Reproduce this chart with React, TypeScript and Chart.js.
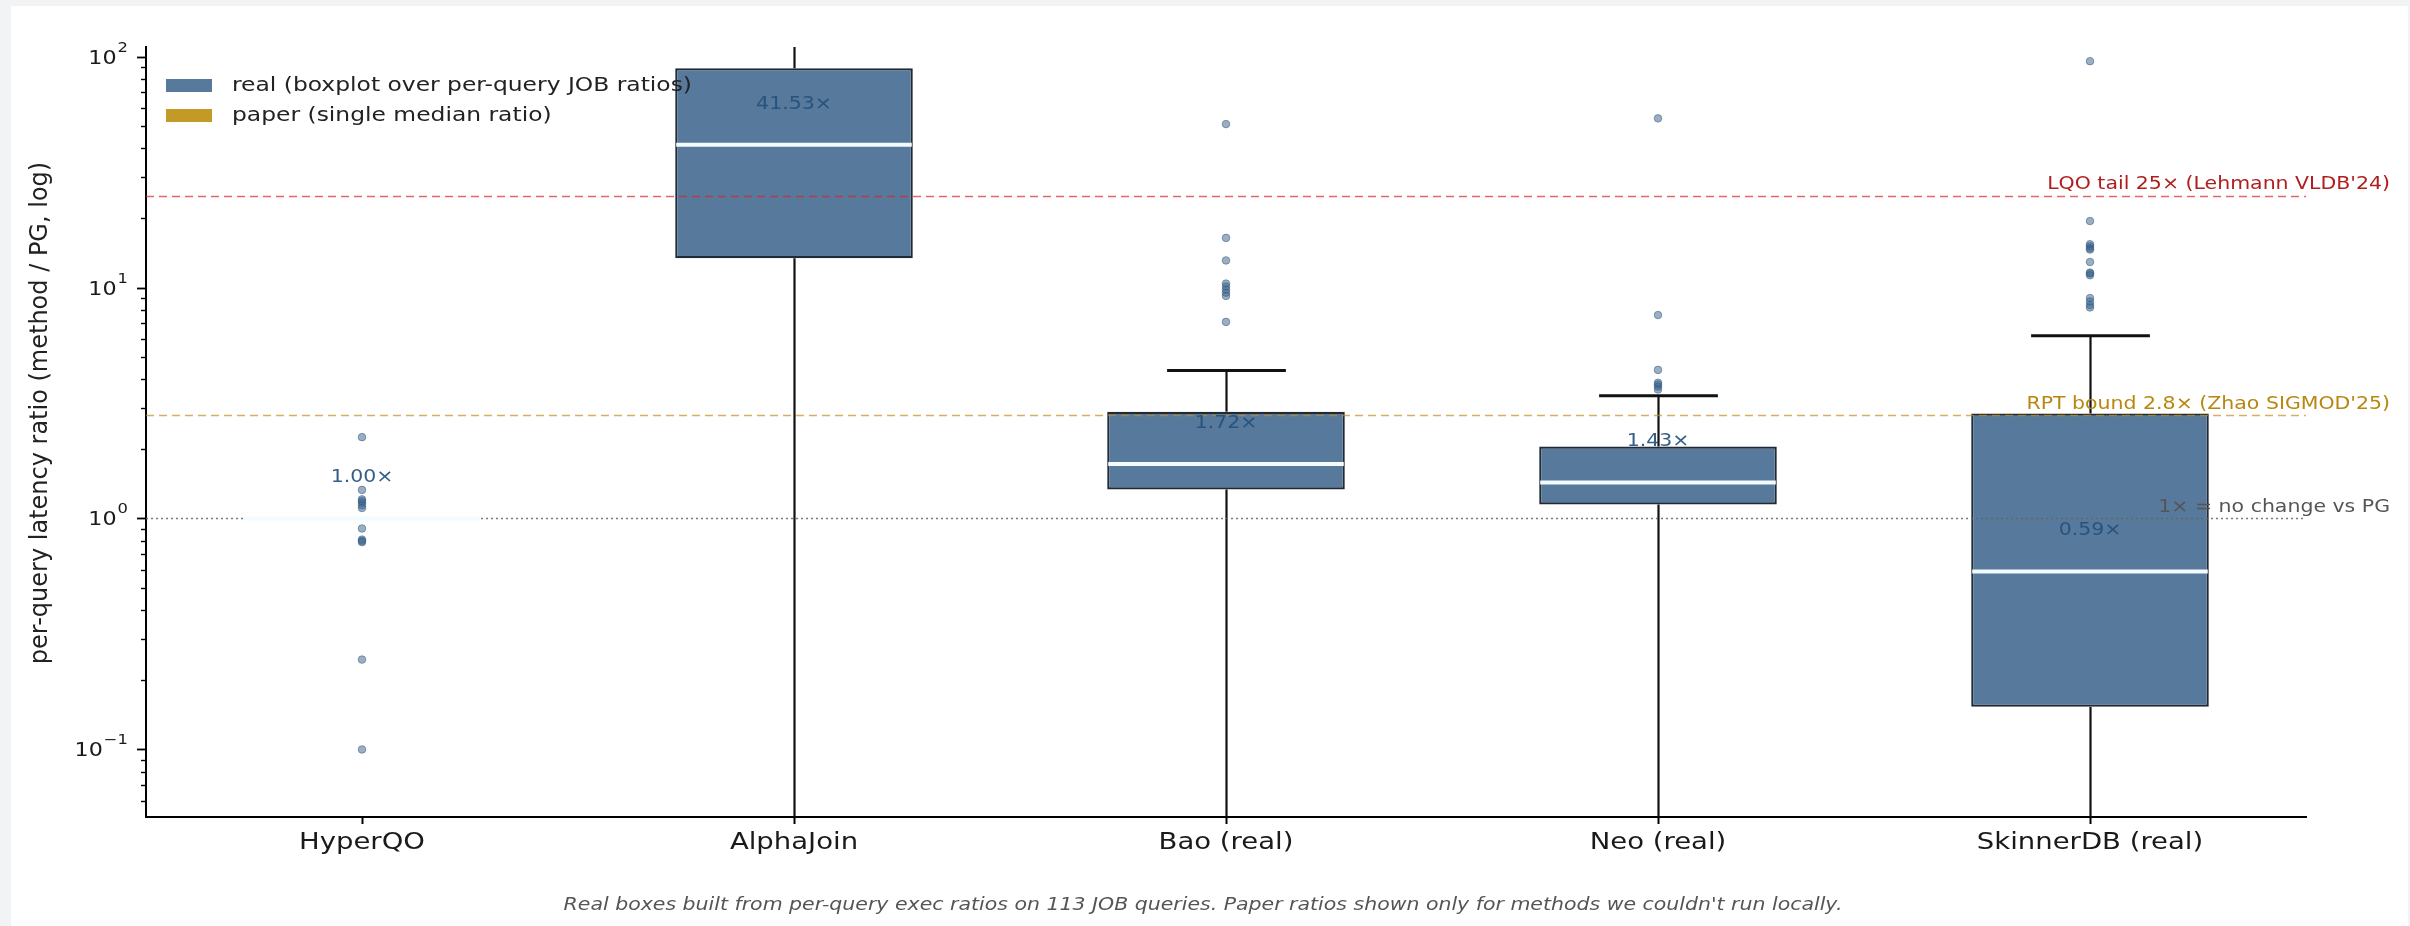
import React, { useEffect, useRef } from 'react';
import { Chart, registerables } from 'chart.js';

Chart.register(...registerables);

// ---- data -------------------------------------------------------------
const CATEGORIES = ['HyperQO', 'AlphaJoin', 'Bao (real)', 'Neo (real)', 'SkinnerDB (real)'];
const MEDIANS = [1.0, 41.53, 1.72, 1.43, 0.59];
const Q1 = [1.0, 13.4, 1.335, 1.15, 0.153];
const Q3 = [1.0, 89, 2.9, 2.05, 2.85];
const WHISKER_LO = [1.0, 0.02, 0.02, 0.02, 0.02];
const WHISKER_HI = [1.0, 300, 4.37, 3.4, 6.18];

const OUTLIERS_HYPERQO = [2.25, 1.33, 1.21, 1.19, 1.17, 1.14, 1.11, 0.905, 0.81, 0.8, 0.79, 0.245, 0.1];
const OUTLIERS_ALPHAJOIN: number[] = [];
const OUTLIERS_BAO = [51, 16.4, 13.1, 10.4, 10.1, 9.8, 9.5, 9.2, 7.1];
const OUTLIERS_NEO = [54, 7.6, 4.4, 3.87, 3.8, 3.72, 3.62];
const OUTLIERS_SKINNER = [95.5, 19.4, 15.4, 15.1, 14.8, 14.6, 12.9, 11.6, 11.5, 11.3, 9.0, 8.7, 8.4, 8.2];

const REF_VALUES = [25, 2.8, 1];
const REF_LABELS = [
  "LQO tail 25× (Lehmann VLDB'24)",
  "RPT bound 2.8× (Zhao SIGMOD'25)",
  '1× = no change vs PG',
];

const Y_TICK_VALUES = [0.1, 1, 10, 100];
const Y_TICK_EXPONENTS = ['−1', '0', '1', '2'];
const Y_MIN = 0.051;
const Y_MAX = 110;

const LEGEND_LABELS = ['real (boxplot over per-query JOB ratios)', 'paper (single median ratio)'];
const Y_TITLE = 'per-query latency ratio (method / PG, log)';
const FOOTNOTE =
  "Real boxes built from per-query exec ratios on 113 JOB queries. Paper ratios shown only for methods we couldn't run locally.";

// ---- styles -----------------------------------------------------------
const W = 2410;
const H = 926;
const FONT = "'DejaVu Sans', 'Liberation Sans', sans-serif";
const SX = 1.17; // horizontal text stretch
const BOX_FILL = '#57799b';
const BOX_EDGE = '#1e2a36';
const PAPER_FILL = '#c49a26';
const MEDIAN_COLOR = '#f2fbff';
const REF_LINE_COLORS = ['rgba(214,39,40,0.7)', 'rgba(200,140,30,0.7)', 'rgba(100,100,100,0.85)'];
const REF_TEXT_COLORS = ['#b01e1e', '#b8870f', '#555555'];
const REF_DASHES = [[8, 5], [8, 5], [2, 3]];
const POINT_FILL = 'rgba(55,95,135,0.5)';
const POINT_EDGE = 'rgba(55,95,135,0.55)';
const LABEL_COLOR = 'rgba(35,80,125,0.92)';

function drawText(
  ctx: CanvasRenderingContext2D,
  text: string,
  x: number,
  y: number,
  font: string,
  color: string,
  align: 'left' | 'center' | 'right' = 'left',
  baseline: CanvasTextBaseline = 'alphabetic'
) {
  ctx.save();
  ctx.font = font;
  ctx.fillStyle = color;
  ctx.textBaseline = baseline;
  ctx.textAlign = 'left';
  const w = ctx.measureText(text).width * SX;
  let x0 = x;
  if (align === 'center') x0 = x - w / 2;
  else if (align === 'right') x0 = x - w;
  ctx.translate(x0, y);
  ctx.scale(SX, 1);
  ctx.fillText(text, 0, 0);
  ctx.restore();
  return w;
}

const decorPlugin = {
  id: 'decor',
  beforeDraw(chart: any) {
    const ctx: CanvasRenderingContext2D = chart.ctx;
    ctx.save();
    ctx.fillStyle = '#f2f3f5';
    ctx.fillRect(0, 0, chart.width, chart.height);
    ctx.fillStyle = '#ffffff';
    ctx.fillRect(11, 6, 2397, chart.height - 6);
    ctx.restore();
  },
  beforeDatasetsDraw(chart: any) {
    const ctx: CanvasRenderingContext2D = chart.ctx;
    const a = chart.chartArea;
    const y = chart.scales.y;
    const meta = chart.getDatasetMeta(0);
    ctx.save();
    ctx.beginPath();
    ctx.rect(a.left, a.top, a.right - a.left, a.bottom - a.top);
    ctx.clip();
    ctx.strokeStyle = '#111';
    CATEGORIES.forEach((_, i) => {
      const bar = meta.data[i];
      const cx = Math.round(bar.x) + 0.5;
      const capHalf = bar.width / 4;
      const segs: [number, number][] = [
        [Q1[i], WHISKER_LO[i]],
        [Q3[i], WHISKER_HI[i]],
      ];
      segs.forEach(([from, to]) => {
        if (from === to) return;
        const p0 = y.getPixelForValue(from);
        const p1 = y.getPixelForValue(to);
        ctx.lineWidth = 2.2;
        ctx.beginPath();
        ctx.moveTo(cx, p0);
        ctx.lineTo(cx, p1);
        ctx.stroke();
        ctx.lineWidth = 3;
        ctx.beginPath();
        ctx.moveTo(cx - capHalf, p1);
        ctx.lineTo(cx + capHalf, p1);
        ctx.stroke();
      });
    });
    ctx.restore();
  },
  afterDatasetsDraw(chart: any) {
    const ctx: CanvasRenderingContext2D = chart.ctx;
    const a = chart.chartArea;
    const x = chart.scales.x;
    const y = chart.scales.y;
    const meta = chart.getDatasetMeta(0);

    // reference lines
    ctx.save();
    REF_VALUES.forEach((v, i) => {
      const py = Math.round(y.getPixelForValue(v)) + 0.5;
      ctx.strokeStyle = REF_LINE_COLORS[i];
      ctx.lineWidth = 1.6;
      ctx.setLineDash(REF_DASHES[i]);
      ctx.beginPath();
      ctx.moveTo(a.left, py);
      ctx.lineTo(a.right, py);
      ctx.stroke();
    });
    ctx.restore();

    // medians
    ctx.save();
    ctx.strokeStyle = MEDIAN_COLOR;
    ctx.lineWidth = 4;
    CATEGORIES.forEach((_, i) => {
      const bar = meta.data[i];
      const py = y.getPixelForValue(MEDIANS[i]);
      ctx.beginPath();
      ctx.moveTo(bar.x - bar.width / 2 + 1, py);
      ctx.lineTo(bar.x + bar.width / 2 - 1, py);
      ctx.stroke();
    });
    ctx.restore();

    // reference labels
    REF_VALUES.forEach((v, i) => {
      const py = y.getPixelForValue(v);
      drawText(ctx, REF_LABELS[i], 2390, py - 11, `17.5px ${FONT}`, REF_TEXT_COLORS[i], 'right', 'middle');
    });

    // median value labels
    CATEGORIES.forEach((_, i) => {
      const bar = meta.data[i];
      const py = y.getPixelForValue(MEDIANS[i] * 1.5);
      drawText(ctx, MEDIANS[i].toFixed(2) + '×', bar.x, py, `17.5px ${FONT}`, LABEL_COLOR, 'center', 'middle');
    });

    // legend
    const legendFills = [BOX_FILL, PAPER_FILL];
    LEGEND_LABELS.forEach((label, i) => {
      const top = 79 + i * 30;
      ctx.save();
      ctx.fillStyle = legendFills[i];
      ctx.fillRect(166, top, 46, 13);
      ctx.restore();
      drawText(ctx, label, 232, top + 7, `20px ${FONT}`, '#222', 'left', 'middle');
    });

    // y ticks (major + minor) and labels
    ctx.save();
    ctx.strokeStyle = '#000';
    for (let d = -2; d <= 2; d++) {
      for (let m = 1; m <= 9; m++) {
        const v = m * Math.pow(10, d);
        if (v < Y_MIN || v > Y_MAX) continue;
        const py = Math.round(y.getPixelForValue(v)) + 0.5;
        const len = m === 1 ? 9 : 5;
        ctx.lineWidth = m === 1 ? 1.8 : 1.4;
        ctx.beginPath();
        ctx.moveTo(a.left - len, py);
        ctx.lineTo(a.left, py);
        ctx.stroke();
      }
    }
    ctx.restore();
    Y_TICK_VALUES.forEach((v, i) => {
      const py = y.getPixelForValue(v);
      ctx.save();
      ctx.font = `19px ${FONT}`;
      const wBase = ctx.measureText('10').width * SX;
      ctx.font = `14px ${FONT}`;
      const wExp = ctx.measureText(Y_TICK_EXPONENTS[i]).width * SX;
      ctx.restore();
      const right = a.left - 18;
      const start = right - wBase - wExp - 1;
      drawText(ctx, '10', start, py + 7, `19px ${FONT}`, '#1a1a1a', 'left', 'alphabetic');
      drawText(ctx, Y_TICK_EXPONENTS[i], start + wBase + 1, py - 5, `14px ${FONT}`, '#1a1a1a', 'left', 'alphabetic');
    });

    // x tick labels
    CATEGORIES.forEach((c, i) => {
      const px = x.getPixelForValue(i);
      drawText(ctx, c, px, 849, `23.5px ${FONT}`, '#1a1a1a', 'center', 'alphabetic');
    });

    // y title
    ctx.save();
    ctx.translate(41, 413);
    ctx.rotate(-Math.PI / 2);
    ctx.font = `24px ${FONT}`;
    ctx.fillStyle = '#222';
    ctx.textAlign = 'center';
    ctx.textBaseline = 'middle';
    ctx.fillText(Y_TITLE, 0, 0);
    ctx.restore();

    // footnote
    drawText(ctx, FOOTNOTE, 1203, 905, `italic 17.5px ${FONT}`, '#555', 'center', 'middle');
  },
};

export default function App() {
  const canvasRef = useRef<HTMLCanvasElement | null>(null);

  useEffect(() => {
    document.body.style.margin = '0';
    document.body.style.overflow = 'hidden';
    const canvas = canvasRef.current;
    if (!canvas) return;

    const OUTLIERS = [OUTLIERS_HYPERQO, OUTLIERS_ALPHAJOIN, OUTLIERS_BAO, OUTLIERS_NEO, OUTLIERS_SKINNER];
    const outlierPoints = OUTLIERS.flatMap((vals, i) => vals.map((v) => ({ x: CATEGORIES[i], y: v })));

    const chart = new Chart(canvas, {
      type: 'bar',
      data: {
        labels: CATEGORIES,
        datasets: [
          {
            type: 'bar',
            data: CATEGORIES.map((_, i) => [Q1[i], Q3[i]]) as any,
            backgroundColor: BOX_FILL,
            borderColor: BOX_EDGE,
            borderWidth: ((c: any) => (Q1[c.dataIndex] === Q3[c.dataIndex] ? 0 : 2.2)) as any,
            borderSkipped: false,
            barPercentage: 0.55,
            categoryPercentage: 1,
            order: 2,
          } as any,
          {
            type: 'line',
            data: outlierPoints as any,
            showLine: false,
            pointRadius: 3.8,
            pointBackgroundColor: POINT_FILL,
            pointBorderColor: POINT_EDGE,
            pointBorderWidth: 1,
            order: 1,
          } as any,
        ],
      },
      options: {
        responsive: false,
        animation: false,
        devicePixelRatio: 1,
        layout: { padding: { left: 0, top: 47, right: W - 2306, bottom: 0 } },
        plugins: { legend: { display: false }, tooltip: { enabled: false } },
        scales: {
          x: {
            type: 'category',
            offset: true,
            grid: {
              display: true,
              drawOnChartArea: false,
              drawTicks: true,
              tickLength: 7,
              tickColor: '#000',
              tickWidth: 2,
              offset: false,
            },
            border: { display: true, color: '#000', width: 2 },
            ticks: { display: false },
            afterFit: (s: any) => {
              s.height = H - 817;
            },
          },
          y: {
            type: 'logarithmic',
            min: Y_MIN,
            max: Y_MAX,
            grid: { display: false },
            border: { display: true, color: '#000', width: 2 },
            ticks: { display: false },
            afterFit: (s: any) => {
              s.width = 146;
            },
          },
        },
      } as any,
      plugins: [decorPlugin],
    });

    return () => chart.destroy();
  }, []);

  return (
    <div style={{ width: W, height: H, overflow: 'hidden' }}>
      <canvas ref={canvasRef} width={W} height={H} style={{ display: 'block', width: W, height: H }} />
    </div>
  );
}
